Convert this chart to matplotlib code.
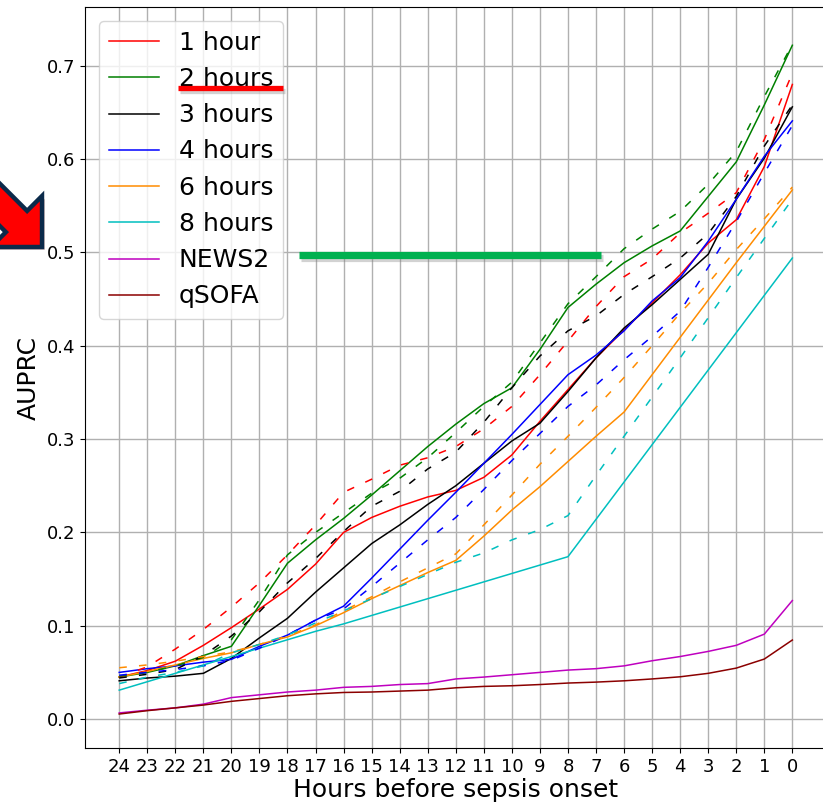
import matplotlib
matplotlib.use("Agg")
import matplotlib.pyplot as plt
import matplotlib.patheffects as pe
from matplotlib.patches import Polygon
from matplotlib.lines import Line2D

hours = list(range(24, -1, -1))

# prediction horizon models (solid = full model, dashed = reduced model)
auprc_1h = [0.045, 0.052, 0.062, 0.079, 0.098, 0.118, 0.139, 0.166, 0.200, 0.216, 0.228, 0.238, 0.245,
            0.259, 0.283, 0.319, 0.353, 0.387, 0.417, 0.446, 0.476, 0.510, 0.535, 0.592, 0.680]
auprc_1h_d = [0.045, 0.056, 0.075, 0.096, 0.120, 0.146, 0.176, 0.208, 0.243, 0.257, 0.272, 0.280, 0.292,
              0.311, 0.335, 0.369, 0.405, 0.442, 0.474, 0.493, 0.521, 0.542, 0.564, 0.621, 0.692]
auprc_2h = [0.045, 0.050, 0.057, 0.068, 0.078, 0.122, 0.167, 0.192, 0.215, 0.240, 0.266, 0.292, 0.316,
            0.338, 0.355, 0.396, 0.441, 0.466, 0.489, 0.507, 0.523, 0.560, 0.597, 0.658, 0.722]
auprc_2h_d = [0.046, 0.050, 0.057, 0.066, 0.085, 0.128, 0.176, 0.200, 0.221, 0.242, 0.258, 0.280, 0.307,
              0.335, 0.361, 0.403, 0.445, 0.474, 0.504, 0.525, 0.544, 0.573, 0.608, 0.667, 0.723]
auprc_3h = [0.041, 0.044, 0.046, 0.049, 0.065, 0.087, 0.108, 0.136, 0.162, 0.188, 0.208, 0.230, 0.250,
            0.274, 0.298, 0.317, 0.351, 0.387, 0.419, 0.444, 0.471, 0.498, 0.557, 0.601, 0.656]
auprc_3h_d = [0.044, 0.048, 0.053, 0.068, 0.089, 0.115, 0.146, 0.172, 0.201, 0.228, 0.244, 0.268, 0.286,
              0.318, 0.355, 0.389, 0.416, 0.432, 0.455, 0.474, 0.494, 0.520, 0.560, 0.614, 0.658]
auprc_4h = [0.050, 0.054, 0.057, 0.061, 0.064, 0.078, 0.090, 0.106, 0.121, 0.151, 0.182, 0.213, 0.243,
            0.274, 0.305, 0.337, 0.369, 0.390, 0.416, 0.448, 0.473, 0.512, 0.557, 0.603, 0.641]
auprc_4h_d = [0.047, 0.050, 0.053, 0.057, 0.063, 0.076, 0.090, 0.106, 0.118, 0.142, 0.167, 0.192, 0.216,
              0.246, 0.277, 0.306, 0.335, 0.358, 0.385, 0.410, 0.437, 0.484, 0.533, 0.585, 0.636]
auprc_6h = [0.045, 0.051, 0.058, 0.065, 0.071, 0.080, 0.088, 0.100, 0.114, 0.129, 0.143, 0.157, 0.170,
            0.196, 0.224, 0.249, 0.276, 0.303, 0.329, 0.369, 0.409, 0.449, 0.489, 0.528, 0.567]
auprc_6h_d = [0.055, 0.058, 0.062, 0.067, 0.072, 0.080, 0.089, 0.101, 0.116, 0.131, 0.147, 0.162, 0.177,
              0.208, 0.240, 0.273, 0.303, 0.334, 0.366, 0.400, 0.435, 0.467, 0.503, 0.536, 0.570]
auprc_8h = [0.031, 0.040, 0.049, 0.058, 0.067, 0.076, 0.085, 0.094, 0.102, 0.111, 0.120, 0.129, 0.138,
            0.147, 0.156, 0.165, 0.174, 0.214, 0.254, 0.294, 0.334, 0.374, 0.414, 0.454, 0.494]
auprc_8h_d = [0.038, 0.045, 0.050, 0.057, 0.071, 0.080, 0.090, 0.103, 0.116, 0.129, 0.142, 0.155, 0.168,
              0.178, 0.192, 0.203, 0.218, 0.261, 0.303, 0.345, 0.387, 0.430, 0.473, 0.515, 0.557]

# clinical scores
auprc_news2 = [0.0066, 0.0095, 0.012, 0.016, 0.023, 0.026, 0.029, 0.031, 0.034, 0.035, 0.037, 0.038, 0.043,
               0.045, 0.0475, 0.050, 0.0525, 0.054, 0.057, 0.0625, 0.067, 0.0725, 0.079, 0.091, 0.127]
auprc_qsofa = [0.0054, 0.009, 0.012, 0.015, 0.019, 0.022, 0.025, 0.027, 0.0285, 0.029, 0.030, 0.031, 0.0335,
               0.035, 0.0357, 0.037, 0.0386, 0.0396, 0.041, 0.043, 0.0453, 0.049, 0.0546, 0.0643, 0.0847]

models = [
    ("1 hour", "r", auprc_1h, auprc_1h_d),
    ("2 hours", "g", auprc_2h, auprc_2h_d),
    ("3 hours", "k", auprc_3h, auprc_3h_d),
    ("4 hours", "b", auprc_4h, auprc_4h_d),
    ("6 hours", "darkorange", auprc_6h, auprc_6h_d),
    ("8 hours", "c", auprc_8h, auprc_8h_d),
]

W, H = 823, 806
fig = plt.figure(figsize=(W / 100, H / 100), dpi=100)
ax = fig.add_axes([85 / W, 58 / H, (826 - 85) / W, (748 - 7) / H])

for label, color, solid, dashed in models:
    ax.plot(hours, solid, color=color, lw=1.1, label=label)
for label, color, solid, dashed in models:
    ax.plot(hours, dashed, color=color, lw=1.1, dashes=(5, 8))
ax.plot(hours, auprc_news2, color="m", lw=1.1, label="NEWS2")
ax.plot(hours, auprc_qsofa, color="darkred", lw=1.1, label="qSOFA")

ax.set_xlim(25.22, -1.2)
ax.set_ylim(-0.031, 0.763)
ax.set_xticks(hours)
ax.set_xticklabels([str(h) for h in hours])
ax.set_yticks([0.0, 0.1, 0.2, 0.3, 0.4, 0.5, 0.6, 0.7])
ax.tick_params(labelsize=13)
ax.grid(True, color="#b0b0b0", lw=1.0)
ax.set_xlabel("Hours before sepsis onset", fontsize=18, labelpad=2)
ax.set_ylabel("AUPRC", fontsize=18)
ax.legend(loc="upper left", fontsize=18, handlelength=2.0, labelspacing=0.49,
          borderaxespad=0.55, handletextpad=0.8)


def px(x, y):
    return x / W, 1 - y / H


shadow = [pe.SimpleLineShadow(offset=(1.5, -2), alpha=0.35, shadow_color="gray"), pe.Normal()]

# underline on the legend entry
x0, y0 = px(178, 88)
x1, y1 = px(283, 88)
fig.add_artist(Line2D([x0, x1], [y0, y1], transform=fig.transFigure, color="#ff0000", lw=3.8,
                      solid_capstyle="butt", path_effects=shadow))

# horizontal marker at AUPRC 0.5
x0, y0 = px(299, 255)
x1, y1 = px(601, 255)
fig.add_artist(Line2D([x0, x1], [y0, y1], transform=fig.transFigure, color="#00b050", lw=5.2,
                      solid_capstyle="butt", path_effects=shadow))

# block arrow on the left margin
arrow_pts = [(-29.5, 154.3), (27.1, 210.9), (42, 196), (42, 247), (-9, 247), (5.9, 232.1), (-50.7, 175.5)]
arrow = Polygon([px(x, y) for x, y in arrow_pts], closed=True, transform=fig.transFigure,
                facecolor="#ff0000", edgecolor="#0b2a4a", lw=3.2, joinstyle="miter",
                path_effects=[pe.withSimplePatchShadow(offset=(2, -2), alpha=0.3)])
fig.add_artist(arrow)

fig.savefig("out.png", dpi=100)
